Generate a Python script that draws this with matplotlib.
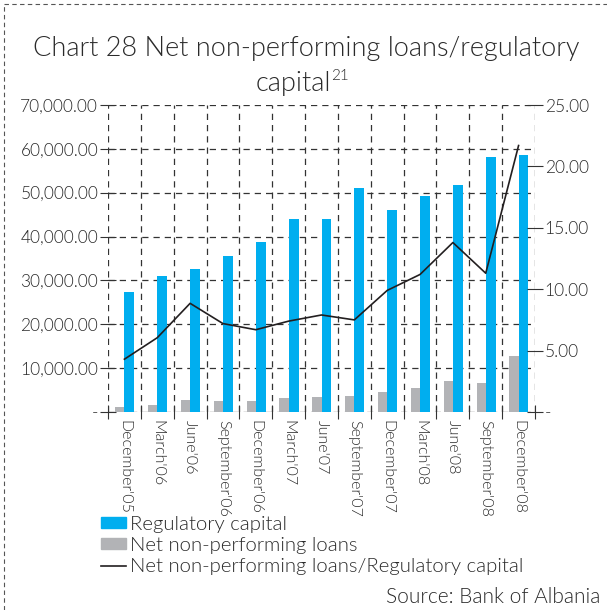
import matplotlib
matplotlib.use("Agg")
import matplotlib.pyplot as plt
from matplotlib.lines import Line2D
from matplotlib.patches import Patch
import matplotlib.ticker as ticker

# quarterly data, Dec'05 - Dec'08
quarters = ["December'05", "March'06", "June'06", "September'06", "December'06",
            "March'07", "June'07", "September'07", "December'07", "March'08",
            "June'08", "September'08", "December'08"]
regulatory_capital = [27400, 31000, 32600, 35600, 38800, 44000, 44000,
                      51100, 46100, 49300, 51800, 58100, 58600]
net_npl = [1100, 1700, 2700, 2500, 2500, 3200, 3500, 3700, 4600, 5500,
           7100, 6700, 12800]
npl_ratio = [4.3, 6.05, 8.85, 7.2, 6.7, 7.4, 7.9, 7.5, 9.9, 11.2, 13.8, 11.3, 21.7]

BLUE = "#00AEEF"
GREY = "#B2B3B6"
LINE = "#231F20"
TEXT = "#2A2A2A"
FONT = "Lato"
W = 300  # light weight for all text

plt.rcParams["font.family"] = [FONT, "DejaVu Sans"]
plt.rcParams["font.weight"] = W

fig = plt.figure(figsize=(6.07, 6.10), dpi=100)
ax = fig.add_axes([108 / 607, 1 - 412 / 610, (535 - 108) / 607, (412 - 105) / 610])
ax2 = ax.twinx()

x = list(range(len(quarters)))
ax.bar([i - 0.28 for i in x], net_npl, width=0.28, align="edge", color=GREY, zorder=3)
ax.bar(x, regulatory_capital, width=0.3, align="edge", color=BLUE, zorder=3)
ax2.plot(x, npl_ratio, color=LINE, linewidth=1.2, zorder=4)

ax.set_xlim(-0.5, len(quarters) - 0.5)
ax.set_ylim(0, 70000)
ax2.set_ylim(0, 25)

for a in (ax, ax2):
    for s in a.spines.values():
        s.set_visible(False)

# dashed grid, also forming the frame of the plot area
grid_kw = dict(color="#333333", linestyle=(0, (5, 4)), linewidth=0.9, zorder=1)
for v in range(0, 70001, 10000):
    ax.axhline(v, **grid_kw)
for b in range(len(quarters) + 1):
    ax.axvline(b - 0.5, **grid_kw)

ax.yaxis.set_major_locator(ticker.MultipleLocator(10000))
ax.yaxis.set_major_formatter(ticker.FuncFormatter(
    lambda v, p: "-" if v == 0 else f"{v:,.2f}"))
ax2.yaxis.set_major_locator(ticker.MultipleLocator(5))
ax2.yaxis.set_major_formatter(ticker.FuncFormatter(
    lambda v, p: "-" if v == 0 else f"{v:.2f}"))

ax.set_xticks([b - 0.5 for b in range(len(quarters) + 1)])
ax.set_xticklabels([])
ax.set_xticks(x, minor=True)
ax.set_xticklabels(quarters, minor=True, rotation=-90, va="top", ha="center")
ax.tick_params(axis="x", which="minor", length=0, pad=6, labelsize=11.5, labelcolor=TEXT)
ax.tick_params(axis="x", which="major", direction="inout", length=10, color="#333333")
ax.tick_params(axis="y", direction="inout", length=12, color="#333333",
               labelsize=12.5, labelcolor=TEXT, pad=1)
ax2.tick_params(axis="y", direction="inout", length=12, color="#333333",
                labelsize=12.5, labelcolor=TEXT, pad=1)

# title
fig.text(306 / 607, 1 - 56 / 610, "Chart 28 Net non-performing loans/regulatory",
         ha="center", va="baseline", fontsize=19.5, color=TEXT)
fig.text(331 / 607, 1 - 91 / 610, "capital", ha="right", va="baseline",
         fontsize=19.5, color=TEXT)
fig.text(331 / 607, 1 - 80 / 610, "21", ha="left", va="baseline",
         fontsize=11, color=TEXT)

handles = [Patch(color=BLUE), Patch(color=GREY), Line2D([], [], color=LINE, linewidth=1.2)]
labels = ["Regulatory capital", "Net non-performing loans",
          "Net non-performing loans/Regulatory capital"]
fig.legend(handles, labels, loc="upper left", bbox_to_anchor=(93 / 607, 1 - 508 / 610),
           frameon=False, fontsize=14.7, handlelength=1.2, handleheight=0.45,
           handletextpad=0.22, labelspacing=0.2, borderaxespad=0, labelcolor=TEXT)

fig.text(600 / 607, 1 - 603 / 610, "Source: Bank of Albania", ha="right", va="baseline",
         fontsize=15, color=TEXT)

# dashed page frame, top and left
frame_kw = dict(color="#555555", linestyle=(0, (4, 3)), linewidth=0.8)
fig.add_artist(Line2D([4 / 607, 1], [1 - 4 / 610, 1 - 4 / 610], **frame_kw))
fig.add_artist(Line2D([4 / 607, 4 / 607], [0, 1 - 4 / 610], **frame_kw))

fig.savefig("out.png", dpi=100)
